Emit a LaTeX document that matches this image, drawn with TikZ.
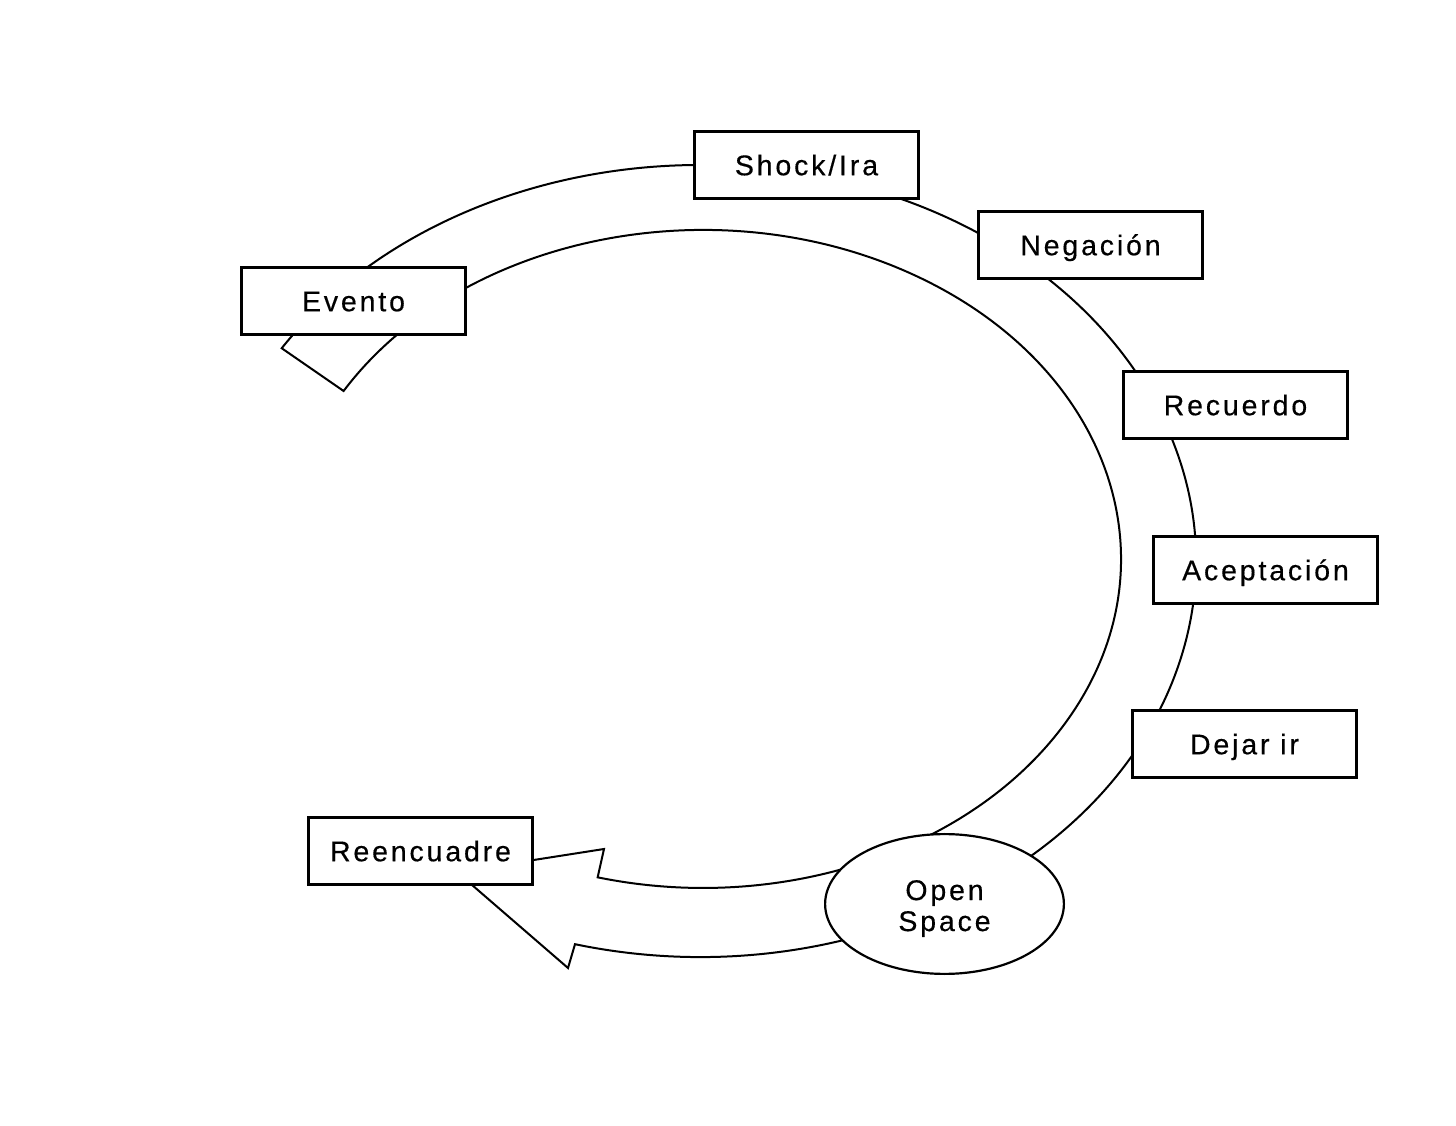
\documentclass[tikz,border=0pt]{standalone}
\usepackage{fontspec}
\setmainfont{Liberation Sans}[LetterSpace=10, FakeBold=0.4]
\usepackage{tikz}
\usetikzlibrary{shapes.geometric}

\tikzset{
    stage/.style={draw, line width=2.6pt, fill=white, minimum width=224.5pt, minimum height=67.5pt,
        inner sep=0pt, text height=20.5pt, text depth=0pt, font=\fontsize{28.5}{31}\selectfont},
    hub/.style={draw, ellipse, line width=2.2pt, fill=white, minimum width=238.8pt, minimum height=139.8pt,
        inner sep=0pt, align=center, font=\fontsize{28.5}{31}\selectfont},
    band/.style={line width=2pt}
}

\begin{document}
\begin{tikzpicture}[x=1pt, y=1pt]
    \useasboundingbox (0, 0) rectangle (1456, 1125);

    \draw[band] (343.6, 734) arc[start angle=149.3, end angle=-104.6, x radius=418, y radius=329]
        -- (604, 276) -- (457, 253) -- (568, 157) -- (575, 180.8)
        arc[start angle=-104.6, end angle=147.5, x radius=496, y radius=396] -- cycle;

    \node[stage] at (806.5, 960) (shock) {Shock/Ira};
    \node[stage] at (1090.5, 880) (negacion) {Negación};
    \node[stage] at (1235.5, 720) (recuerdo) {Recuerdo};
    \node[stage] at (1265.5, 555) (aceptacion) {Aceptación};
    \node[stage] at (1244.5, 381) (dejar) {Dejar ir};
    \node[stage] at (353.5, 824) (evento) {Evento};
    \node[stage] at (420.5, 274) (reencuadre) {Reencuadre};
    \node[hub] at (944.5, 221) (open) {\rule{0pt}{29pt}Open\\Space};
\end{tikzpicture}
\end{document}
